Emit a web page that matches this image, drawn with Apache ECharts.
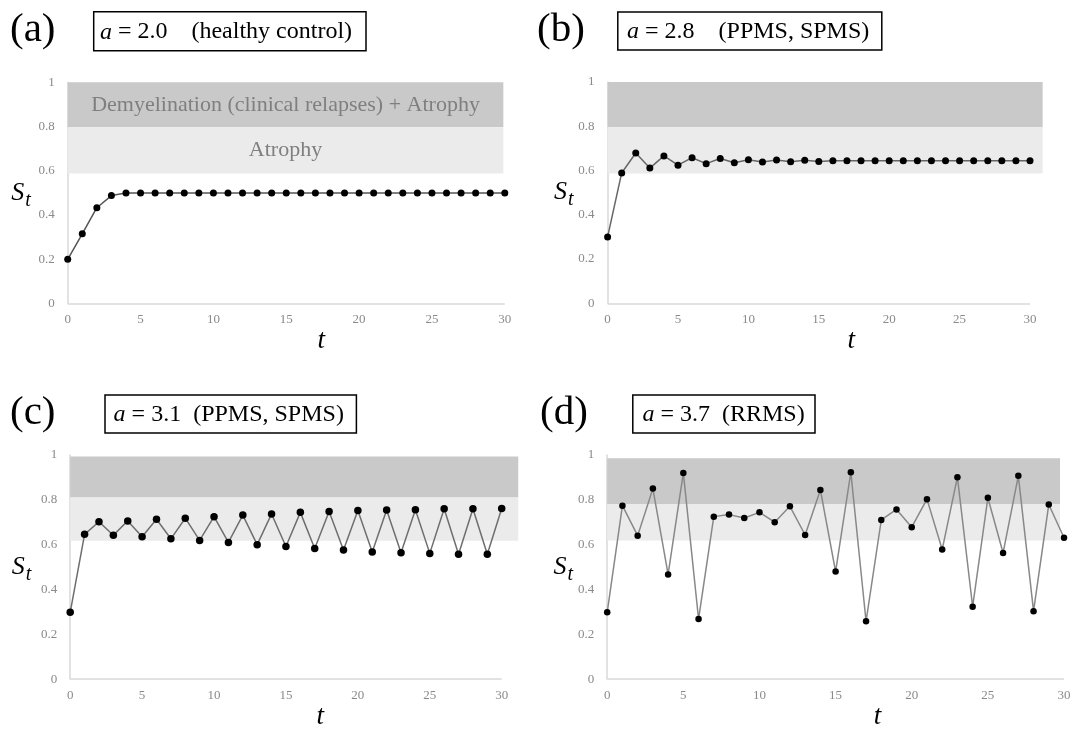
<!DOCTYPE html>
<html><head><meta charset="utf-8">
<script src="https://cdn.jsdelivr.net/npm/echarts@6/dist/echarts.min.js"></script>
<style>html,body{margin:0;padding:0;background:#fff}#c{width:1075px;height:731px}</style>
</head><body><div id="c"></div>
<script>
// ---- data ----
const tValues = [0,1,2,3,4,5,6,7,8,9,10,11,12,13,14,15,16,17,18,19,20,21,22,23,24,25,26,27,28,29,30];
const xTicks = [0,5,10,15,20,25,30];
const yTicks = ['0','0.2','0.4','0.6','0.8','1'];
const panelLetters = ['(a)','(b)','(c)','(d)'];
const aValues = ['2.0','2.8','3.1','3.7'];
const panelNotes = ['(healthy control)','(PPMS, SPMS)','(PPMS, SPMS)','(RRMS)'];
const bandLabels = ['Demyelination (clinical relapses) + Atrophy','Atrophy'];

const sA = [0.20,0.315,0.433,0.488,0.50,0.50,0.50,0.50,0.50,0.50,0.50,0.50,0.50,0.50,0.50,0.50,
            0.50,0.50,0.50,0.50,0.50,0.50,0.50,0.50,0.50,0.50,0.50,0.50,0.50,0.50,0.50];
const sB = [0.30,0.589,0.679,0.611,0.666,0.624,0.658,0.631,0.654,0.635,0.649,0.639,0.647,0.640,0.646,0.641,
            0.644,0.644,0.644,0.644,0.644,0.644,0.644,0.644,0.644,0.644,0.644,0.644,0.644,0.644,0.644];
const sC = [0.298,0.646,0.702,0.642,0.706,0.635,0.713,0.626,0.718,0.619,0.725,0.610,0.732,0.600,0.737,0.592,
            0.744,0.583,0.748,0.576,0.752,0.567,0.755,0.564,0.756,0.561,0.760,0.557,0.760,0.557,0.761];
const sD = [0.298,0.774,0.640,0.850,0.467,0.920,0.268,0.725,0.734,0.719,0.744,0.700,0.771,0.643,0.844,0.480,
            0.923,0.258,0.710,0.757,0.678,0.803,0.578,0.901,0.323,0.809,0.563,0.907,0.303,0.779,0.631];

// band boundaries [atrophy low, demyelination low, top] and band right end (in t units)
const bandsA = [0.588, 0.797, 1.0];   const bandEndA = 29.9;
const bandsB = [0.587, 0.796, 1.0];   const bandEndB = 30.9;
const bandsC = [0.617, 0.81, 0.993];  const bandEndC = 31.15;
const bandsD = [0.618, 0.781, 0.986]; const bandEndD = 29.74;

// ---- layout ----
const SERIF = "'Liberation Serif','DejaVu Serif',serif";
const seriesVals = [sA,sB,sC,sD];
const bands = [bandsA,bandsB,bandsC,bandsD];
const bandEnds = [bandEndA,bandEndB,bandEndC,bandEndD];
const xMaxes = bandEnds.map(b=>Math.max(30,b));
// x0 pixel, pixel per unit t, top, height
const geo = [
  {x0:67.7,  ppu:437.1/30, top:82.3, height:221.2},
  {x0:607.6, ppu:422.4/30, top:82,   height:221.3},
  {x0:70.2,  ppu:431.5/30, top:455,  height:233},
  {x0:607.2, ppu:456.8/30, top:455,  height:228.5}
];
const grids = geo.map((g,i)=>({left:g.x0, top:g.top, width:g.ppu*xMaxes[i], height:g.height}));
const tLabelPad = [70,52,52,84];
const tLabelGap = [20,20,23,21];
const sLabelGap = [37,34,39,33];
const lineColors = ['#555555','#666666','#6e6e6e','#888888'];
const symSizes = [7,7,7.5,6.5];
const AXIS_GRAY = '#d9d9d9';

const xAxes = grids.map((g,i)=>({
  gridIndex:i, type:'value', min:0, max:xMaxes[i], interval:5,
  axisLine:{show:false}, axisTick:{show:false}, splitLine:{show:false},
  axisLabel:{color:'#8a8a8a', fontFamily:SERIF, fontSize:13, margin:10, showMaxLabel:xMaxes[i]===30,
             formatter:(v)=> xTicks.indexOf(v)>=0 ? String(v) : ''},
  name:'t', nameLocation:'middle', nameGap:tLabelGap[i],
  nameTextStyle:{fontFamily:SERIF, fontStyle:'italic', fontSize:27, color:'#000', padding:[0,0,0,tLabelPad[i]]}
}));
const yAxes = grids.map((g,i)=>({
  gridIndex:i, type:'value', min:0, max:1, interval:0.2,
  axisLine:{show:true, lineStyle:{color:AXIS_GRAY, width:1.5}},
  axisTick:{show:false}, splitLine:{show:false},
  axisLabel:{color:'#8a8a8a', fontFamily:SERIF, fontSize:13, margin:13,
             formatter:(v)=>yTicks[Math.round(v/0.2)]},
  name:'{s|S}{t|t}', nameLocation:'middle', nameRotate:0, nameGap:sLabelGap[i],
  nameTextStyle:{rich:{
    s:{fontFamily:SERIF, fontStyle:'italic', fontSize:26, color:'#000'},
    t:{fontFamily:SERIF, fontStyle:'italic', fontSize:20, color:'#000', padding:[15,0,0,1]}
  }}
}));

const series = seriesVals.map((vals,i)=>({
  type:'line', xAxisIndex:i, yAxisIndex:i, clip:false,
  data: tValues.map((t,k)=>[t, vals[k]]),
  symbol:'circle', symbolSize:symSizes[i], showSymbol:true,
  itemStyle:{color:'#000'}, lineStyle:{color:lineColors[i], width:1.5},
  emphasis:{disabled:true}, z:3,
  markLine:{
    silent:true, symbol:['none','none'], label:{show:false},
    lineStyle:{color:AXIS_GRAY, width:1.5, type:'solid'},
    data:[[{coord:[xTicks[0],0]},{coord:[xTicks[xTicks.length-1],0]}]]
  },
  markArea:{
    silent:true,
    label:{show:i===0, position:'inside', color:'#7f7f7f', fontFamily:SERIF, fontSize:22},
    data:[
      [{xAxis:0, yAxis:bands[i][1], name:i===0?bandLabels[0]:'', itemStyle:{color:'#c9c9c9'}},
       {xAxis:bandEnds[i], yAxis:bands[i][2]}],
      [{xAxis:0, yAxis:bands[i][0], name:i===0?bandLabels[1]:'', itemStyle:{color:'#ebebeb'}},
       {xAxis:bandEnds[i], yAxis:bands[i][1]}]
    ]
  }
}));

// panel headers: letter + boxed parameter
const letterPos = [[10,30],[537,30],[10,413.5],[540,413.5]];
const boxPos = [[93.7,11.7,272.3,39],[617.8,12,264,38],[105,395,251.4,38],[632.8,395,182.2,38]];
const textInset = [6.2,9.2,8.6,9.6];
const gaps = ['    ','    ','  ','  '];
const graphic = [];
panelLetters.forEach((L,i)=>{
  graphic.push({type:'text', x:letterPos[i][0], y:letterPos[i][1],
    style:{text:L, font:"41px "+SERIF, fill:'#000', textVerticalAlign:'middle'}});
  const b = boxPos[i];
  graphic.push({type:'rect', shape:{x:b[0], y:b[1], width:b[2], height:b[3]},
    style:{fill:'#fff', stroke:'#000', lineWidth:1.5}});
  graphic.push({type:'text', x:b[0]+textInset[i], y:b[1]+b[3]/2+1,
    style:{text:'{i|a} = '+aValues[i]+gaps[i]+panelNotes[i], textVerticalAlign:'middle',
      font:"24px "+SERIF, fill:'#000',
      rich:{i:{fontStyle:'italic', fontFamily:SERIF, fontSize:24, fill:'#000'}}}});
});

const chart = echarts.init(document.getElementById('c'), null, {renderer:'canvas'});
chart.setOption({
  animation:false, backgroundColor:'#fff',
  grid:grids, xAxis:xAxes, yAxis:yAxes, series:series, graphic:graphic
});
</script></body></html>
